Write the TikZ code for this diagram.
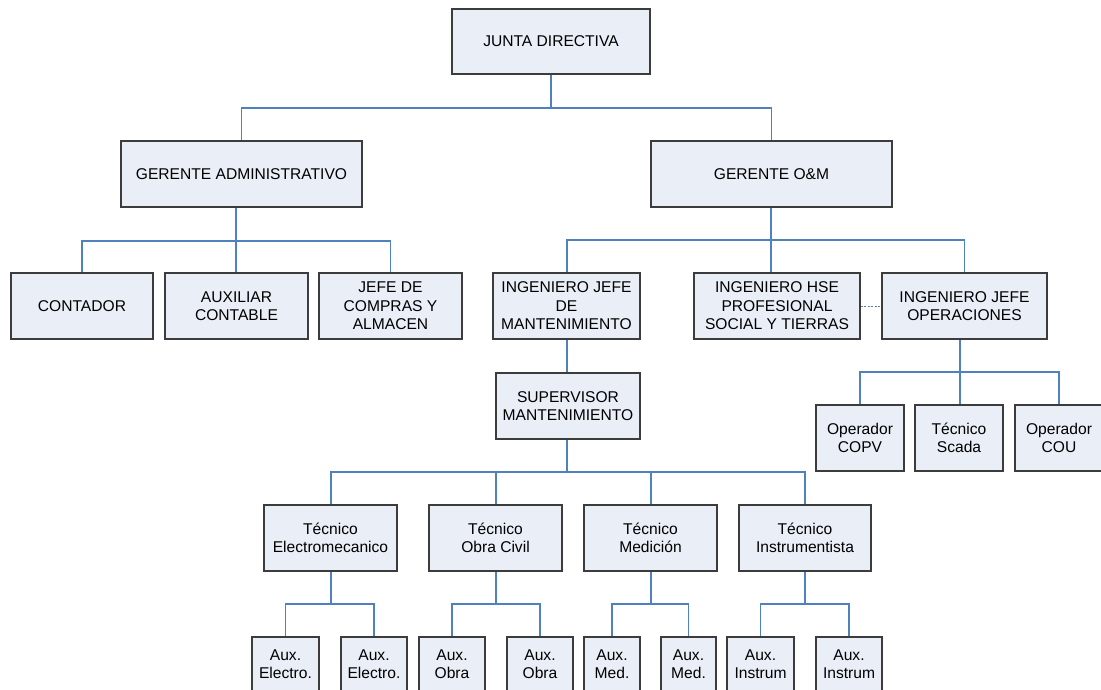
\documentclass[tikz,border=0pt]{standalone}
\usepackage{fontspec}
\setmainfont{Liberation Sans}
\definecolor{linkblue}{RGB}{79,129,189}
\definecolor{boxfill}{RGB}{233,238,247}
\definecolor{boxdraw}{RGB}{60,60,60}
\begin{document}
\begin{tikzpicture}[x=1pt,y=-1pt,
  box/.style={draw=boxdraw,line width=1.3pt,fill=boxfill,rectangle,inner sep=0pt,
    align=center,font=\fontsize{15.6}{18.5}\selectfont,minimum height=66pt},
  auxbox/.style={box,minimum height=54pt},
  link/.style={draw=linkblue,line width=1.1pt},
  dlink/.style={draw=linkblue,line width=1pt,dashed,dash pattern=on 2pt off 1.5pt}]
\useasboundingbox[fill=white] (0,0) rectangle (1101,690);
% boxes
\node[box,minimum width=198pt,minimum height=65pt] (jd) at (551,41.5) {JUNTA DIRECTIVA};
\node[box,minimum width=241pt] (ga) at (241.5,174) {GERENTE ADMINISTRATIVO};
\node[box,minimum width=241pt] (gom) at (771.5,174) {GERENTE O\&M};
\node[box,minimum width=142pt] (cont) at (82,306) {CONTADOR};
\node[box,minimum width=143pt] (auxc) at (236.5,306) {AUXILIAR\\CONTABLE};
\node[box,minimum width=143pt] (jefe) at (390.5,306) {JEFE DE\\COMPRAS Y\\ALMACEN};
\node[box,minimum width=147pt] (ijm) at (566.5,306) {INGENIERO JEFE\\DE\\MANTENIMIENTO};
\node[box,minimum width=166pt] (hse) at (777,306) {INGENIERO HSE\\PROFESIONAL\\SOCIAL Y TIERRAS};
\node[box,minimum width=165pt] (ijo) at (964.5,306) {INGENIERO JEFE\\OPERACIONES};
\node[box,minimum width=144pt] (sup) at (568,406) {SUPERVISOR\\MANTENIMIENTO};
\node[box,minimum width=88pt] (copv) at (860,438) {Operador\\COPV};
\node[box,minimum width=88pt] (scada) at (959,438) {Técnico\\Scada};
\node[box,minimum width=88pt] (cou) at (1059,438) {Operador\\COU};
\node[box,minimum width=133pt] (tel) at (330.5,538) {Técnico\\Electromecanico};
\node[box,minimum width=133pt] (toc) at (495.5,538) {Técnico\\Obra Civil};
\node[box,minimum width=133pt] (tme) at (650.5,538) {Técnico\\Medición};
\node[box,minimum width=132pt] (tin) at (805,538) {Técnico\\Instrumentista};
\node[auxbox,minimum width=67pt] (ae1) at (285.5,664) {Aux.\\Electro.};
\node[auxbox,minimum width=66pt] (ae2) at (374,664) {Aux.\\Electro.};
\node[auxbox,minimum width=66pt] (ao1) at (452,664) {Aux.\\Obra};
\node[auxbox,minimum width=66pt] (ao2) at (540,664) {Aux.\\Obra};
\node[auxbox,minimum width=56pt] (am1) at (612,664) {Aux.\\Med.};
\node[auxbox,minimum width=55pt] (am2) at (688.5,664) {Aux.\\Med.};
\node[auxbox,minimum width=67pt] (ai1) at (760.5,664) {Aux.\\Instrum};
\node[auxbox,minimum width=66pt] (ai2) at (849,664) {Aux.\\Instrum};
% bus points
\coordinate (b1) at (551,108);
\coordinate (b2) at (236,241);
\coordinate (b3) at (771,240);
\coordinate (b4) at (960,372);
\coordinate (b5) at (567,472);
\coordinate (b6) at (331,604);
\coordinate (b7) at (496,604);
\coordinate (b8) at (651,604);
\coordinate (b9) at (805,604);
% connectors
\draw[link] (jd.south) -- (b1);
\draw[link] (ga.north) |- (b1) -| (gom.north);
\draw[link] (ga.south -| b2) -- (b2);
\draw[link] (cont.north) |- (b2) -| (jefe.north);
\draw[link] (b2) -- (auxc.north -| b2);
\draw[link] (gom.south -| b3) -- (b3);
\draw[link] (ijm.north -| b5) |- (b3) -| (ijo.north);
\draw[link] (b3) -- (hse.north -| b3);
\draw[link] (ijo.south -| b4) -- (b4);
\draw[link] (copv.north) |- (b4) -| (cou.north);
\draw[link] (b4) -- (scada.north -| b4);
\draw[link] (ijm.south -| b5) -- (sup.north -| b5);
\draw[link] (sup.south -| b5) -- (b5);
\draw[link] (tel.north -| b6) |- (b5) -| (tin.north -| b9);
\draw[link] (b5 -| b7) -- (toc.north -| b7);
\draw[link] (b5 -| b8) -- (tme.north -| b8);
\draw[link] (tel.south -| b6) -- (b6);
\draw[link] (ae1.north) |- (b6) -| (ae2.north);
\draw[link] (toc.south -| b7) -- (b7);
\draw[link] (ao1.north) |- (b7) -| (ao2.north);
\draw[link] (tme.south -| b8) -- (b8);
\draw[link] (am1.north) |- (b8) -| (am2.north);
\draw[link] (tin.south -| b9) -- (b9);
\draw[link] (ai1.north) |- (b9) -| (ai2.north);
\draw[dlink] (hse.east) -- (ijo.west);
\end{tikzpicture}
\end{document}
